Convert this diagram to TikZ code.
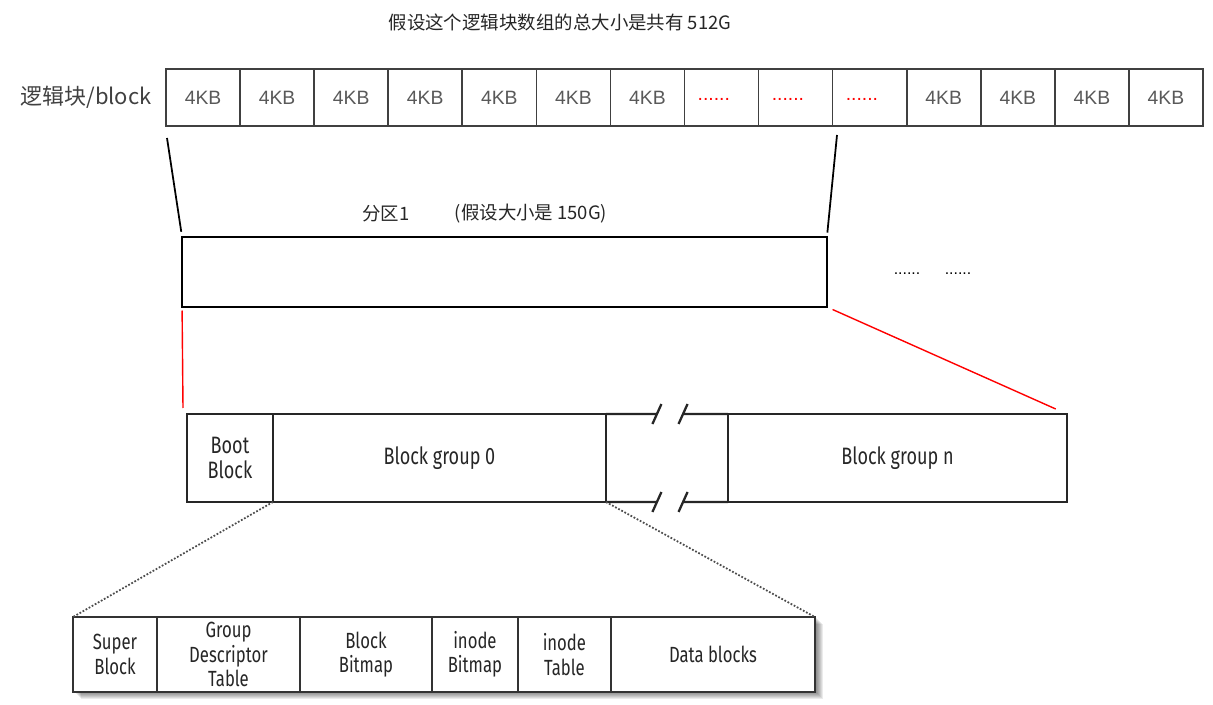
\documentclass[tikz,border=0pt]{standalone}
\usepackage{fontspec}
\usetikzlibrary{positioning,calc,backgrounds}
\newfontfamily\cjkfont{Noto Sans CJK SC}
\newfontfamily\kbfont{Liberation Sans}
\newfontfamily\condfont[FakeStretch=0.76]{Fira Sans}
\newcommand{\reddots}{\raisebox{-3pt}{\textcolor{red}{......}}\hspace*{0.8em}}

\begin{document}
\begin{tikzpicture}[x=0.02cm,y=-0.02cm,
  kb/.style={draw=black!75,line width=0.9pt,outer sep=0pt,inner sep=0pt,
    minimum width=1.4814cm,minimum height=1.14cm,
    font=\kbfont\fontsize{11}{13}\selectfont,text=black!65},
  grp/.style={draw=black!85,line width=1.3pt,outer sep=0pt,inner sep=0pt,
    minimum height=1.76cm,align=center,
    font=\condfont\fontsize{13.5}{14.2}\selectfont,text=black!85},
  fld/.style={draw=black!80,fill=white,line width=0.8pt,outer sep=0pt,inner sep=0pt,
    minimum height=1.5cm,align=center,
    font=\condfont\fontsize{12.5}{13.9}\selectfont,text=black!85},
  cjk/.style={font=\cjkfont\fontsize{10.5}{12}\selectfont,text=black!85},
  zoomline/.style={black,line width=1pt},
  redline/.style={red,line width=0.8pt}]
  \useasboundingbox (0,0) rectangle (1213,705);

  % title and the row of logical blocks
  \node[cjk] (title) at (560,22) {假设这个逻辑块数组的总大小是共有 512G};
  \node[cjk,font=\cjkfont\fontsize{12.5}{14}\selectfont,text=black!75] (lbl) at (86,97) {逻辑块/block};
  \foreach \i/\t in {1/4KB,2/4KB,3/4KB,4/4KB,5/4KB,6/4KB,7/4KB,8/\reddots,
                     9/\reddots,10/\reddots,11/4KB,12/4KB,13/4KB,14/4KB}
    \node[kb] (c\i) at ({166+74.07*(\i-0.5)},97.5) {\t};

  % partition 1
  \node[draw,line width=1.2pt,outer sep=0pt,minimum width=12.9cm,minimum height=1.4cm] (part) at (504.5,272) {};
  \node[cjk] (plabel) at (386,214) {分区1};
  \node[cjk] (psize) at (531,214) {(假设大小是 150G)};
  \node[font=\kbfont\fontsize{9}{10}\selectfont] (more1) at (907,274) {......};
  \node[font=\kbfont\fontsize{9}{10}\selectfont] (more2) at (958,274) {......};

  \coordinate (zl) at (167,138);
  \coordinate (zr) at (837,135);
  \draw[zoomline,shorten >=3pt] (zl) -- (part.north west);
  \draw[zoomline,shorten >=2.5pt] (zr) -- (part.north east);

  % block groups
  \node[grp,minimum width=1.72cm] (boot) at (230,458) {Boot\\Block};
  \node[grp,minimum width=6.66cm,right=0pt of boot] (bg0) {Block group 0};
  \node[grp,minimum width=6.78cm] (bgn) at (897.5,458) {Block group n};
  \foreach \e/\w in {north east/north west,south east/south west} {
    \draw[black!85,line width=1.3pt] (bg0.\e) -- ++(51,0) ++(-4.5,10) -- ++(9,-20);
    \draw[black!85,line width=1.3pt] (bgn.\w) -- ++(-45,0) ++(-4.5,10) -- ++(9,-20);
  }

  \coordinate (rl) at (183,408);
  \draw[redline,shorten <=2pt] (part.south west) -- (rl);
  \draw[redline,shorten <=3.5pt,shorten >=7pt] (part.south east) -- (bgn.north east);

  % inside a block group
  \node[fld,minimum width=1.68cm] (sb) at (115,654.5) {Super\\Block};
  \node[fld,minimum width=2.86cm,right=0pt of sb] (gdt) {Group\\Descriptor\\Table};
  \node[fld,minimum width=2.64cm,right=0pt of gdt] (bbm) {Block\\Bitmap};
  \node[fld,minimum width=1.72cm,right=0pt of bbm] (ibm) {inode\\Bitmap};
  \node[fld,minimum width=1.86cm,right=0pt of ibm] (itab) {inode\\Table};
  \node[fld,minimum width=4.08cm,right=0pt of itab] (data) {Data blocks};
  \begin{scope}[on background layer]
    \foreach \k in {1,...,7}
      \fill[black,opacity=0.08] ($(sb.north west)+(\k+1,\k)$) rectangle ($(data.south east)+(\k+1,\k)$);
  \end{scope}

  \draw[densely dotted,line width=1pt,black!70] (boot.south east) -- (sb.north west);
  \draw[densely dotted,line width=1pt,black!70] (bg0.south east) -- (data.north east);
\end{tikzpicture}
\end{document}
